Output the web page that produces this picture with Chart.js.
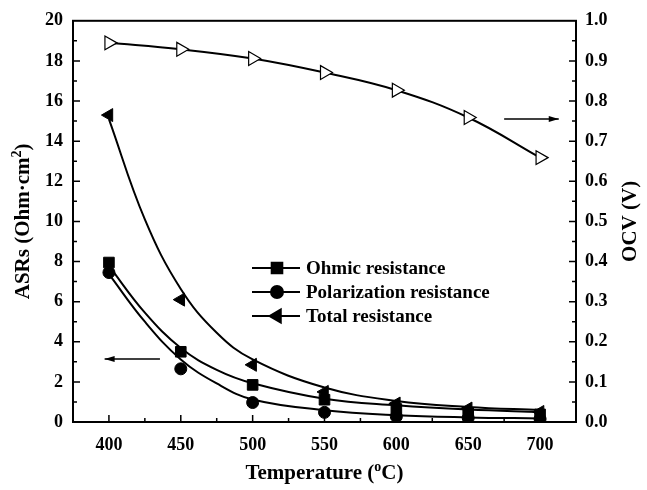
<!DOCTYPE html>
<html>
<head>
<meta charset="utf-8">
<script src="https://cdn.jsdelivr.net/npm/chart.js@4.4.1/dist/chart.umd.min.js"></script>
<style>
  html, body { margin: 0; padding: 0; background: #fff; }
  #wrap { width: 647px; height: 490px; }
</style>
</head>
<body>
<div id="wrap"><canvas id="asrChart" width="647" height="490"></canvas></div>
<script>
// measured points
const temps = [400, 450, 500, 550, 600, 650, 700];
const ohmic = [7.95, 3.5, 1.85, 1.11, 0.65, 0.45, 0.38];
const polarization = [7.45, 2.65, 0.97, 0.48, 0.27, 0.2, 0.15];
const total = [15.3, 6.1, 2.85, 1.5, 0.92, 0.67, 0.5];
const ocv = [0.945, 0.929, 0.906, 0.871, 0.827, 0.759, 0.659];

// fitted curves
const fitTemps = [400, 425, 450, 475, 500, 550, 600, 650, 700];
const ohmicFit = [7.78, 5.45, 3.69, 2.6, 1.93, 1.16, 0.83, 0.62, 0.5];
const polarizationFit = [7.37, 5.0, 3.12, 1.92, 1.12, 0.59, 0.34, 0.23, 0.18];
const totalFit = [15.1, 10.1, 6.63, 4.45, 3.12, 1.72, 1.05, 0.75, 0.59];

// tick labels
const xTicks = [400, 450, 500, 550, 600, 650, 700];
const asrTicks = [0, 2, 4, 6, 8, 10, 12, 14, 16, 18, 20];
const ocvTicks = [0, 0.1, 0.2, 0.3, 0.4, 0.5, 0.6, 0.7, 0.8, 0.9, 1.0];

const serif = "'Liberation Serif', 'Times New Roman', serif";
const tickFont = { family: serif, size: 18, weight: 'bold' };

const pts = (xs, ys) => xs.map((x, i) => ({ x: x, y: ys[i] }));

function fixTicks(values) {
  return function(scale) {
    scale.ticks = values.map(v => ({ value: v }));
  };
}

// draw "main" + small raised part + "tail", centred on cx
function supText(ctx, main, sup, tail, size, cx, cy) {
  ctx.font = 'bold ' + size + 'px ' + serif;
  const w1 = ctx.measureText(main).width;
  const w3 = ctx.measureText(tail).width;
  ctx.font = 'bold ' + Math.round(size * 0.65) + 'px ' + serif;
  const w2 = ctx.measureText(sup).width;
  let sx = cx - (w1 + w2 + w3) / 2;
  ctx.textAlign = 'left';
  ctx.textBaseline = 'middle';
  ctx.font = 'bold ' + size + 'px ' + serif;
  ctx.fillText(main, sx, cy);
  ctx.font = 'bold ' + Math.round(size * 0.65) + 'px ' + serif;
  ctx.fillText(sup, sx + w1, cy - size * 0.33);
  ctx.font = 'bold ' + size + 'px ' + serif;
  ctx.fillText(tail, sx + w1 + w2, cy);
}

// frame, inward ticks, axis titles, arrows and legend
const decorations = {
  id: 'decorations',
  afterDraw(chart) {
    const ctx = chart.ctx;
    const a = chart.chartArea;
    const x = chart.scales.x, yl = chart.scales.y, yr = chart.scales.y1;
    ctx.save();
    ctx.strokeStyle = '#000';
    ctx.fillStyle = '#000';
    ctx.lineWidth = 2;
    ctx.strokeRect(a.left, a.top, a.right - a.left, a.bottom - a.top);

    ctx.lineWidth = 1.5;
    ctx.beginPath();
    for (let v = 400; v < 725; v += 25) {
      const px = x.getPixelForValue(v);
      const len = v % 50 === 0 ? 7 : 4;
      ctx.moveTo(px, a.bottom); ctx.lineTo(px, a.bottom - len);
    }
    for (let v = 1; v < 20; v++) {
      const py = yl.getPixelForValue(v);
      const len = v % 2 === 0 ? 7 : 4;
      ctx.moveTo(a.left, py); ctx.lineTo(a.left + len, py);
    }
    for (let i = 1; i < 20; i++) {
      const py = yr.getPixelForValue(i * 0.05);
      const len = i % 2 === 0 ? 7 : 4;
      ctx.moveTo(a.right, py); ctx.lineTo(a.right - len, py);
    }
    ctx.stroke();

    // arrows pointing to the axes
    function arrow(x1, x2, py) {
      ctx.lineWidth = 1.5;
      ctx.beginPath();
      ctx.moveTo(x1, py); ctx.lineTo(x2, py);
      ctx.stroke();
      const dir = x2 > x1 ? 1 : -1;
      ctx.beginPath();
      ctx.moveTo(x2, py);
      ctx.lineTo(x2 - dir * 10, py - 3);
      ctx.lineTo(x2 - dir * 10, py + 3);
      ctx.closePath();
      ctx.fill();
    }
    arrow(x.getPixelForValue(435.5), x.getPixelForValue(397), yl.getPixelForValue(3.14));
    arrow(x.getPixelForValue(675), x.getPixelForValue(713), yr.getPixelForValue(0.755));

    // legend
    const items = [
      { label: 'Ohmic resistance', ds: 0 },
      { label: 'Polarization resistance', ds: 1 },
      { label: 'Total resistance', ds: 2 }
    ];
    const lx = 252, ly = 268;
    items.forEach((it, i) => {
      const py = ly + i * 24;
      const ds = chart.data.datasets[it.ds];
      ctx.lineWidth = 2;
      ctx.beginPath();
      ctx.moveTo(lx, py); ctx.lineTo(lx + 48, py);
      ctx.stroke();
      Chart.helpers.drawPoint(ctx, {
        pointStyle: ds.pointStyle,
        radius: ds.pointRadius,
        rotation: ds.rotation || 0,
        borderWidth: 1
      }, lx + 25, py);
      ctx.fill();
      ctx.font = 'bold 19px ' + serif;
      ctx.textAlign = 'left';
      ctx.textBaseline = 'middle';
      ctx.fillText(it.label, lx + 54, py + 1);
    });

    // axis titles
    supText(ctx, 'Temperature (', 'o', 'C)', 21, (a.left + a.right) / 2, 474);

    ctx.save();
    ctx.translate(24, (a.top + a.bottom) / 2);
    ctx.rotate(-Math.PI / 2);
    supText(ctx, 'ASRs (Ohm\u00b7cm', '2', ')', 21, 0, 0);
    ctx.restore();

    ctx.save();
    ctx.translate(631, (a.top + a.bottom) / 2);
    ctx.rotate(-Math.PI / 2);
    ctx.font = 'bold 21px ' + serif;
    ctx.textAlign = 'center';
    ctx.textBaseline = 'middle';
    ctx.fillText('OCV (V)', 0, 0);
    ctx.restore();

    ctx.restore();
  }
};

const fitLine = (label, data) => ({
  type: 'line',
  label: label,
  data: data,
  yAxisID: 'y',
  borderColor: '#000',
  borderWidth: 2,
  pointRadius: 0,
  tension: 0.4,
  order: 2
});

const ctx = document.getElementById('asrChart').getContext('2d');

new Chart(ctx, {
  data: {
    datasets: [
      {
        type: 'scatter',
        label: 'Ohmic resistance',
        data: pts(temps, ohmic),
        yAxisID: 'y',
        pointStyle: 'rect',
        pointRadius: 7.5,
        backgroundColor: '#000',
        borderColor: '#000',
        order: 1
      },
      {
        type: 'scatter',
        label: 'Polarization resistance',
        data: pts(temps, polarization),
        yAxisID: 'y',
        pointStyle: 'circle',
        pointRadius: 6,
        backgroundColor: '#000',
        borderColor: '#000',
        order: 1
      },
      {
        type: 'scatter',
        label: 'Total resistance',
        data: pts(temps, total),
        yAxisID: 'y',
        pointStyle: 'triangle',
        rotation: -90,
        pointRadius: 7.5,
        backgroundColor: '#000',
        borderColor: '#000',
        order: 1
      },
      fitLine('Ohmic fit', pts(fitTemps, ohmicFit)),
      fitLine('Polarization fit', pts(fitTemps, polarizationFit)),
      fitLine('Total fit', pts(fitTemps, totalFit)),
      {
        type: 'line',
        label: 'OCV',
        data: pts(temps, ocv),
        yAxisID: 'y1',
        borderColor: '#000',
        borderWidth: 2,
        pointStyle: 'triangle',
        pointRotation: 90,
        pointRadius: 8,
        pointBorderWidth: 1.2,
        pointBackgroundColor: '#fff',
        pointBorderColor: '#000',
        tension: 0.4,
        order: 0
      }
    ]
  },
  options: {
    responsive: false,
    animation: false,
    layout: { padding: { top: 14, left: 0, right: 0, bottom: 0 } },
    plugins: {
      legend: { display: false },
      tooltip: { enabled: false }
    },
    scales: {
      x: {
        type: 'linear',
        min: 375,
        max: 725,
        afterBuildTicks: fixTicks(xTicks),
        afterFit: function(s) { s.height = 68; },
        grid: { drawOnChartArea: false, drawTicks: false, lineWidth: 0 },
        border: { display: false },
        ticks: { color: '#000', font: tickFont, padding: 13, maxRotation: 0 }
      },
      y: {
        position: 'left',
        min: 0,
        max: 20,
        afterBuildTicks: fixTicks(asrTicks),
        afterFit: function(s) { s.width = 73; },
        grid: { drawOnChartArea: false, drawTicks: false, lineWidth: 0 },
        border: { display: false },
        ticks: { color: '#000', font: tickFont, padding: 10 }
      },
      y1: {
        position: 'right',
        min: 0,
        max: 1,
        afterBuildTicks: fixTicks(ocvTicks),
        afterFit: function(s) { s.width = 71; },
        grid: { drawOnChartArea: false, drawTicks: false, lineWidth: 0 },
        border: { display: false },
        ticks: {
          color: '#000',
          font: tickFont,
          padding: 9,
          callback: function(v) { return v.toFixed(1); }
        }
      }
    }
  },
  plugins: [decorations]
});
</script>
</body>
</html>
